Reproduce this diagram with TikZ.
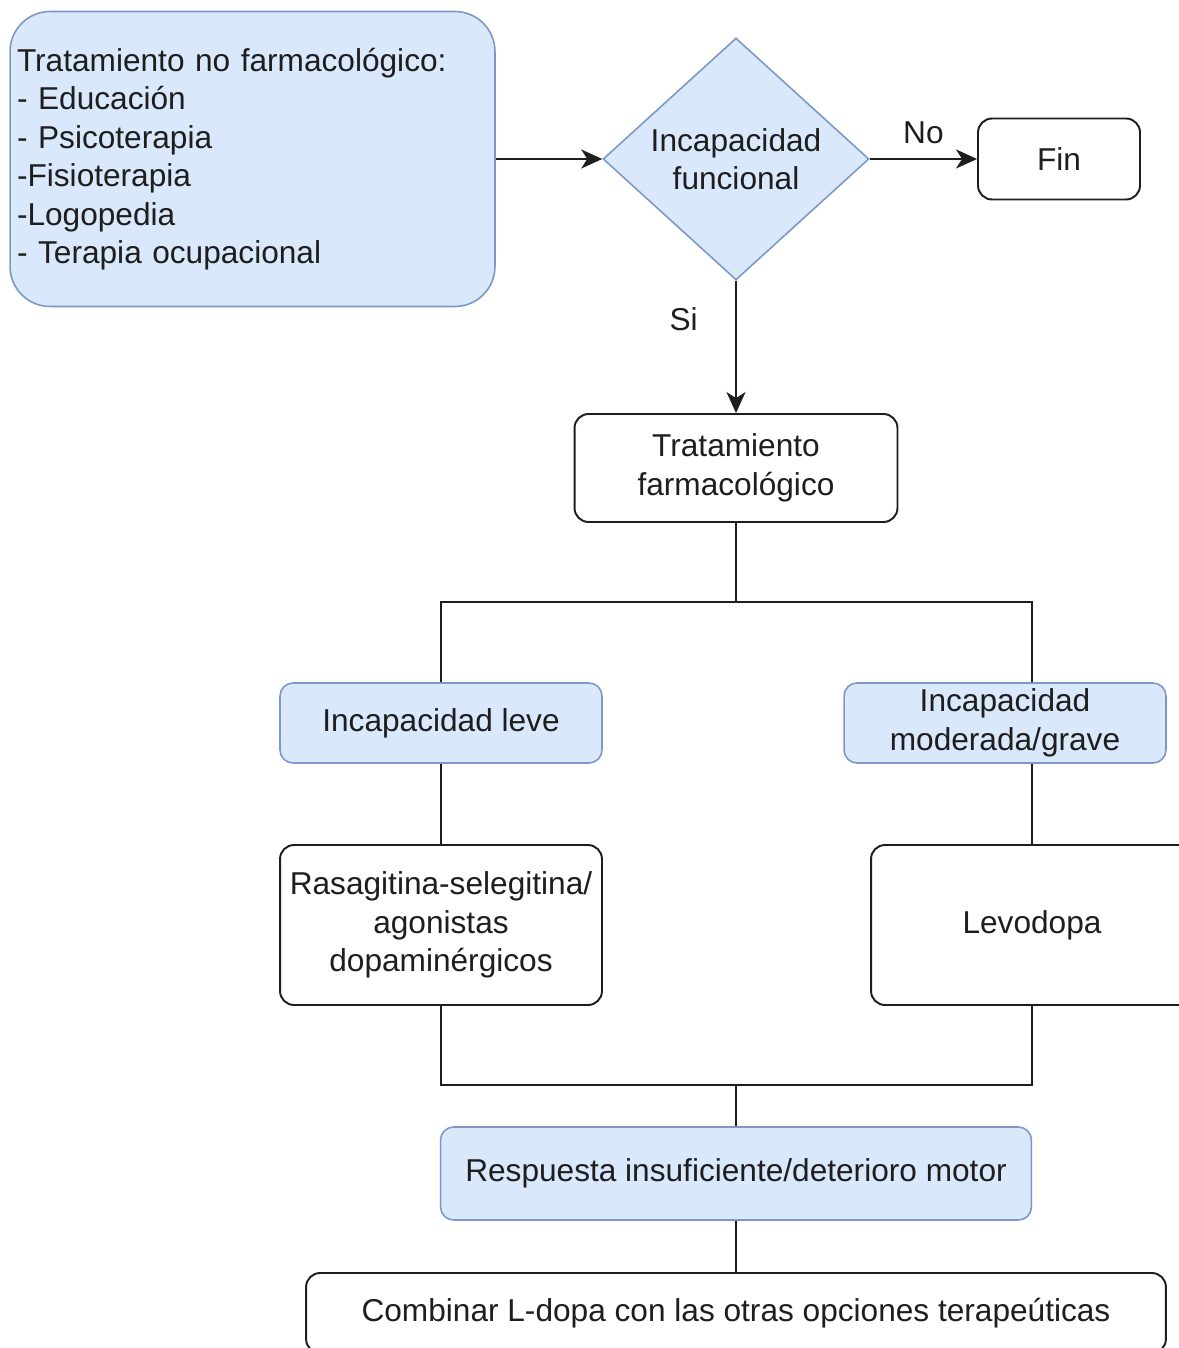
\documentclass[tikz,border=0pt]{standalone}
\usepackage{fontspec}
\setmainfont{Liberation Sans}
\usetikzlibrary{shapes.geometric,arrows.meta}
\definecolor{boxblue}{HTML}{DAE8FC}
\definecolor{edgeblue}{HTML}{7D98C4}
\definecolor{ink}{HTML}{1E1E1E}
\begin{document}
\begin{tikzpicture}[x=0.02cm,y=-0.02cm,
  every node/.style={font=\fontsize{18pt}{21.9pt}\selectfont, text=ink},
  bluebox/.style={draw=edgeblue, fill=boxblue, line width=0.9pt, rounded corners=0.26cm, align=center, inner sep=0pt},
  whitebox/.style={draw=ink, fill=white, line width=1.1pt, rounded corners=0.28cm, align=center, inner sep=0pt},
  link/.style={draw=ink, line width=1.1pt},
  flow/.style={link, -{Stealth[length=0.42cm,width=0.38cm,inset=0.12cm]}},
]
\useasboundingbox[fill=white] (0,0) rectangle (1179,1348);

% boxes
\node[bluebox, rounded corners=0.8cm, minimum height=5.9cm, text width=9.42cm, inner xsep=0.14cm, align=left]
  (nonpharm) at (252.5,159) {Tratamiento no farmacológico:\\- Educación\\- Psicoterapia\\-Fisioterapia\\-Logopedia\\- Terapia ocupacional};
\node[diamond, draw=edgeblue, fill=boxblue, line width=0.9pt, aspect=1.1, minimum width=5.32cm, minimum height=4.84cm, inner sep=0pt, align=center]
  (decide) at (736,159) {Incapacidad\\funcional};
\node[whitebox, minimum width=3.24cm, minimum height=1.62cm] (fin) at (1059,159) {Fin};
\node[whitebox, minimum width=6.46cm, minimum height=2.16cm] (trat) at (736,468) {Tratamiento\\farmacológico};
\node[bluebox, minimum width=6.44cm, minimum height=1.6cm] (leve) at (441,723) {Incapacidad leve};
\node[bluebox, minimum width=6.44cm, minimum height=1.6cm] (mod) at (1005,723) {Incapacidad\\moderada/grave};
\node[whitebox, minimum width=6.44cm, minimum height=3.2cm] (rasa) at (441,925) {Rasagitina-selegitina/\\agonistas\\dopaminérgicos};
\node[whitebox, minimum width=6.44cm, minimum height=3.2cm] (levo) at (1032,925) {Levodopa};
\node[bluebox, minimum width=11.82cm, minimum height=1.86cm] (resp) at (736,1173.5) {Respuesta insuficiente/deterioro motor};
\node[whitebox, minimum width=17.2cm, minimum height=1.6cm] (comb) at (736,1313) {Combinar L-dopa con las otras opciones terapeúticas};

% decision arrows
\draw[flow] (nonpharm.east) -- (decide.west);
\draw[flow] (decide.east) -- node[above=5pt] {No} (fin.west);
\draw[flow] (decide.south) -- node[pos=0.29, left=0.63cm] {Si} (trat.north);

% branching connectors
\coordinate (split) at (736,602);
\coordinate (join) at (736,1085);
\draw[link] (trat.south) -- (split);
\draw[link] (leve.north) |- (split) -| (levo.north |- mod.north);
\draw[link] (leve.south) -- (rasa.north);
\draw[link] (mod.south -| levo.north) -- (levo.north);
\draw[link] (rasa.south) |- (join) -| (levo.south);
\draw[link] (join) -- (resp.north);
\draw[link] (resp.south) -- (comb.north);
\end{tikzpicture}
\end{document}
